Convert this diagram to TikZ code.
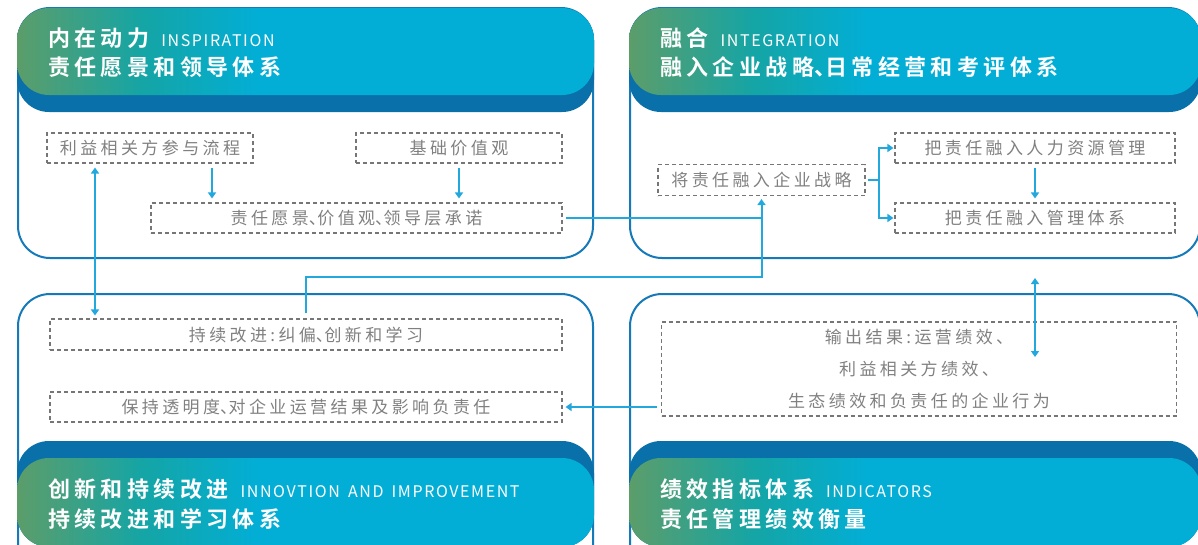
\documentclass[tikz,border=0pt]{standalone}
\usepackage{fontspec}
\setmainfont{Noto Sans CJK SC}
\newfontfamily\hdrfont{Noto Sans CJK SC}[BoldFont={Noto Sans CJK SC Bold},LetterSpace=20]
\newfontfamily\enfont{Noto Sans CJK SC}[LetterSpace=10]
\newfontfamily\boxfont{Noto Sans CJK SC}[LetterSpace=20]
\newcommand\hdun{{\addfontfeature{RawFeature=+halt}、}}
\usetikzlibrary{arrows.meta,calc}
\definecolor{hgreen}{RGB}{92,157,106}
\definecolor{hteal}{RGB}{20,165,166}
\definecolor{hcyan}{RGB}{2,174,214}
\definecolor{bandblue}{RGB}{10,112,170}
\definecolor{pborder}{RGB}{22,122,184}
\definecolor{conn}{RGB}{35,168,222}
\definecolor{boxgray}{RGB}{118,118,118}
\definecolor{txtgray}{RGB}{128,128,128}
\pgfdeclarehorizontalshading{hdrshade}{100bp}{color(0bp)=(hgreen); color(25bp)=(hgreen); color(36bp)=(hteal); color(46bp)=(hcyan); color(100bp)=(hcyan)}
\begin{document}
\begin{tikzpicture}[x=1pt,y=-1pt,
  panel/.style={draw=pborder,line width=2pt,rounded corners=32pt},
  band/.style={fill=bandblue,rounded corners=32pt},
  grad/.style={shading=hdrshade,rounded corners=32pt},
  htxt/.style={anchor=base west,text=white,inner sep=0pt,font=\hdrfont\bfseries\fontsize{22}{26}\selectfont},
  dbox/.style={draw=boxgray,line width=1.1pt,dash pattern=on 4pt off 3pt,text=txtgray,
    font=\boxfont\fontsize{17}{32}\selectfont,inner sep=0pt,align=center},
  line/.style={draw=conn,line width=2pt},
  arr/.style={line,-{Triangle[length=6pt,width=8pt]}},
  arr2/.style={line,{Triangle[length=6pt,width=8pt]}-{Triangle[length=6pt,width=8pt]}}]
\useasboundingbox (0,0) rectangle (1198,544);
\clip (0,0) rectangle (1198,544);
% panel outlines
\draw[panel] (18,8) rectangle (593,258);
\draw[panel] (630,8) rectangle (1200,258);
\draw[panel] (18,294) rectangle (593,580);
\draw[panel] (630,294) rectangle (1200,580);
% header bands
\fill[band] (17,8) rectangle (594,112);
\shade[grad] (17,8) rectangle (594,95);
\fill[band] (629,8) rectangle (1201,112);
\shade[grad] (629,8) rectangle (1201,95);
\fill[band] (17,441) rectangle (594,547);
\shade[grad] (17,458) rectangle (594,547);
\fill[band] (629,441) rectangle (1201,547);
\shade[grad] (629,458) rectangle (1201,547);
% header texts
\node[htxt] (t1a) at (48,46) {内在动力\hspace{12pt}{\enfont\mdseries\fontsize{16}{18}\selectfont INSPIRATION}};
\node[htxt] (t1b) at (48,75) {责任愿景和领导体系};
\node[htxt] (t2a) at (660,46) {融合\hspace{12pt}{\enfont\mdseries\fontsize{16}{18}\selectfont INTEGRATION}};
\node[htxt] (t2b) at (660,75) {融入企业战略\hdun 日常经营和考评体系};
\node[htxt] (t3a) at (48,497) {创新和持续改进\hspace{12pt}{\enfont\mdseries\fontsize{16}{18}\selectfont INNOVTION\hspace{3pt} AND\hspace{3pt} IMPROVEMENT}};
\node[htxt] (t3b) at (48,527) {持续改进和学习体系};
\node[htxt] (t4a) at (660,497) {绩效指标体系\hspace{12pt}{\enfont\mdseries\fontsize{16}{18}\selectfont INDICATORS}};
\node[htxt] (t4b) at (660,527) {责任管理绩效衡量};
% boxes
\node[dbox,minimum width=206pt,minimum height=30pt] (A) at (150,148) {利益相关方参与流程};
\node[dbox,minimum width=206pt,minimum height=30pt] (B) at (459,148) {基础价值观};
\node[dbox,minimum width=411pt,minimum height=30pt] (C) at (356.5,218) {责任愿景\hdun 价值观\hdun 领导层承诺};
\node[dbox,minimum width=207pt,minimum height=31pt] (D) at (761.5,180) {将责任融入企业战略};
\node[dbox,minimum width=280pt,minimum height=30pt] (E) at (1035,148) {把责任融入人力资源管理};
\node[dbox,minimum width=280pt,minimum height=30pt] (F) at (1035,218) {把责任融入管理体系};
\node[dbox,minimum width=512pt,minimum height=31pt] (G) at (306,334.5) {持续改进:纠偏\hdun 创新和学习};
\node[dbox,minimum width=512pt,minimum height=30pt] (H) at (306,407) {保持透明度\hdun 对企业运营结果及影响负责任};
\node[dbox,minimum width=515pt,minimum height=94pt] (I) at (919,369) {输出结果:运营绩效、\\利益相关方绩效、\\生态绩效和负责任的企业行为};
% connector helpers
\coordinate (xa) at (212,0);
\coordinate (xl) at (95,0);
\coordinate (K) at (306,277);
\coordinate (r1) at (1035,278);
\coordinate (r2) at (1035,357);
\coordinate (J) at (D.south |- C.east);
% connectors
\draw[arr,shorten <=4pt,shorten >=4pt] (A.south -| xa) -- (C.north -| xa);
\draw[arr,shorten <=4pt,shorten >=4pt] (B.south) -- (B.south |- C.north);
\draw[arr,shorten <=4pt,shorten >=4pt] (E.south) -- (F.north);
\draw[arr,shorten <=2pt,shorten >=1pt] (D.east) -- ++(13,0) |- (E.west);
\draw[arr,shorten <=2pt,shorten >=1pt] (D.east) -- ++(13,0) |- (F.west);
\draw[line,shorten <=3pt] (C.east) -- (J);
\draw[arr,shorten <=5pt,shorten >=3pt] (G.north) -- (K) -| (D.south);
\draw[arr2,shorten <=4pt,shorten >=3pt] (A.south -| xl) -- (G.north -| xl);
\draw[arr2] (r1) -- (r2);
\draw[arr,shorten <=4pt,shorten >=3pt] (I.west |- H.east) -- (H.east);
\end{tikzpicture}
\end{document}
